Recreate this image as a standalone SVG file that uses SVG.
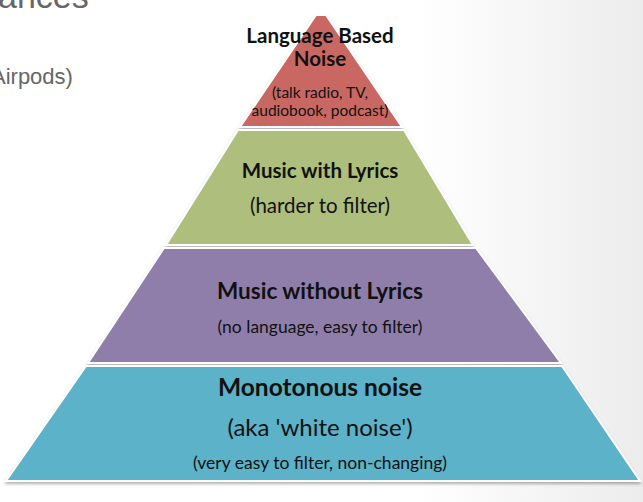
<svg xmlns="http://www.w3.org/2000/svg" width="643" height="502" viewBox="0 0 643 502">
<defs>
<linearGradient id="bg" x1="0" y1="0" x2="1" y2="0">
<stop offset="0.65" stop-color="#ffffff"/><stop offset="1" stop-color="#ececec"/>
</linearGradient>
<filter id="sh" x="-5%" y="-5%" width="110%" height="115%"><feDropShadow dx="0" dy="2" stdDeviation="1.5" flood-color="#000" flood-opacity="0.3"/></filter>
</defs>
<style>
.t{font-family:Lato,"Open Sans",sans-serif;fill:#111;text-anchor:middle}
.b{font-weight:bold}
.g{font-family:"Liberation Sans",Arial,sans-serif;fill:#666}
.seg{stroke:#fff;stroke-width:2;filter:url(#sh)}
</style>
<rect width="643" height="502" fill="url(#bg)"/>
<text class="g" x="-2" y="8" font-size="34">ances</text>
<text class="g" x="-9" y="84" font-size="22">Airpods)</text>
<g id="red"><polygon class="seg" points="316,15 326,15 402,127 240,127" fill="#c96763"/>
<text class="t b" x="320" y="43" font-size="20.5">Language Based</text>
<text class="t b" x="320" y="66" font-size="20.5">Noise</text>
<text class="t" x="320" y="98" font-size="15.5">(talk radio, TV,</text>
<text class="t" x="320" y="116" font-size="15.5">audiobook, podcast)</text></g>
<g id="green"><polygon class="seg" points="238,130 404,130 473,245 166,245" fill="#aebf7d"/>
<text class="t b" x="320" y="178" font-size="20.5">Music with Lyrics</text>
<text class="t" x="320" y="213" font-size="20.5">(harder to filter)</text></g>
<g id="purple"><polygon class="seg" points="164,248 476,248 561,363 88,363" fill="#8f7eaa"/>
<text class="t b" x="320" y="299" font-size="22.5">Music without Lyrics</text>
<text class="t" x="320" y="333" font-size="17.5">(no language, easy to filter)</text></g>
<g id="teal"><polygon class="seg" points="86,366 562,366 640,481 6,481" fill="#5bb2c8"/>
<text class="t b" x="320" y="396" font-size="24.5">Monotonous noise</text>
<text class="t" x="320" y="436" font-size="24">(aka 'white noise')</text>
<text class="t" x="320" y="469" font-size="17.5">(very easy to filter, non-changing)</text></g>
<g id="connectors"/>
</svg>
